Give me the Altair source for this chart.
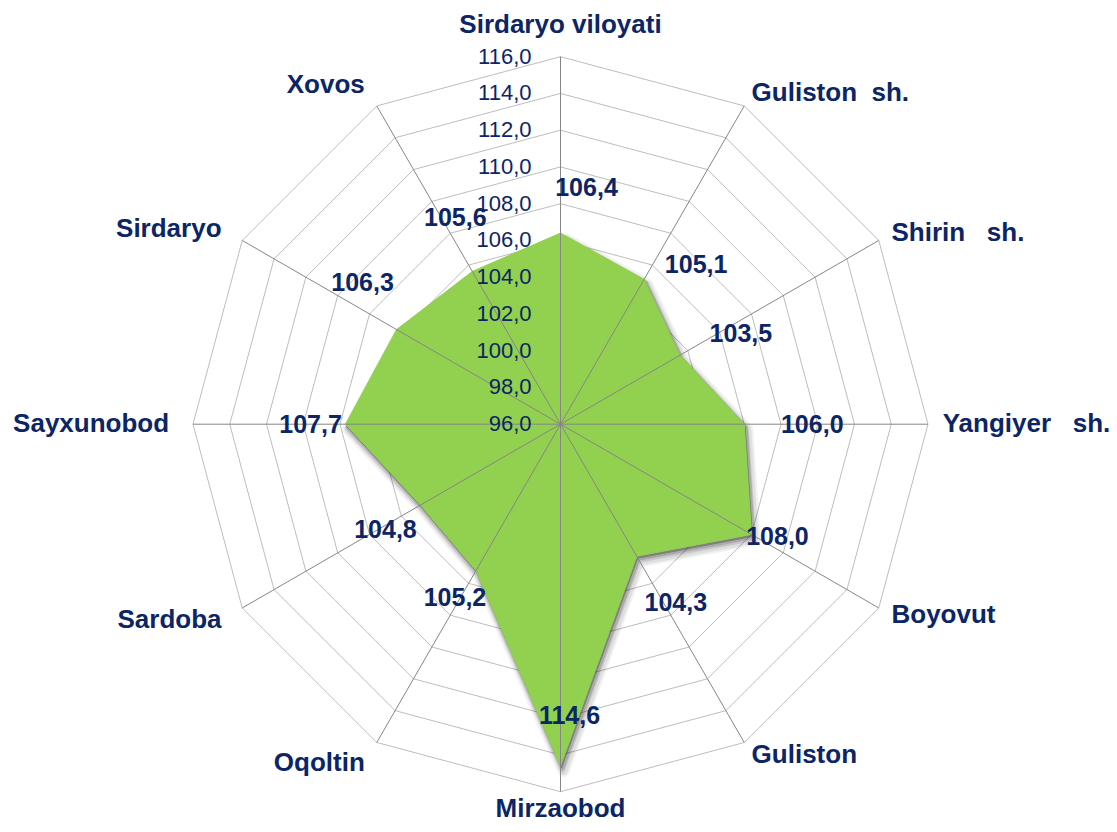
import altair as alt
import pandas as pd

# ---------------- data ----------------
categories = ["Sirdaryo viloyati", "Guliston\u00a0\u00a0sh.", "Shirin\u00a0\u00a0\u00a0sh.",
              "Yangiyer\u00a0\u00a0\u00a0sh.", "Boyovut", "Guliston", "Mirzaobod",
              "Oqoltin", "Sardoba", "Sayxunobod", "Sirdaryo", "Xovos"]
values = [106.4, 105.1, 103.5, 106.0, 108.0, 104.3, 114.6, 105.2, 104.8, 107.7, 106.3, 105.6]
value_labels = ["106,4", "105,1", "103,5", "106,0", "108,0", "104,3",
                "114,6", "105,2", "104,8", "107,7", "106,3", "105,6"]
ticks = [96, 98, 100, 102, 104, 106, 108, 110, 112, 114, 116]
tick_labels = ["96,0", "98,0", "100,0", "102,0", "104,0", "106,0",
               "108,0", "110,0", "112,0", "114,0", "116,0"]
# manual nudges of the data labels (pixels, from the point)
label_dx = [26, 52, 61, 68, 26, 39, 9, -21, -35, -35, -34, -17]
label_dy = [-45, -14, -21, 1, 3, 47, -50, 27, 25, 1, -47, -53]

VMIN, VMAX = 96, 116
N = len(categories)

# ---------------- layout ----------------
W, H = 1101, 816
CX, CY, R = 552.5, 416.2, 367.5
xdom = [-CX / R, (W - CX) / R]
ydom = [-(H - CY) / R, CY / R]
xs = alt.Scale(domain=xdom, nice=False, zero=False)
ys = alt.Scale(domain=ydom, nice=False, zero=False)

NAVY = "#0b2566"
FONT = "Liberation Sans"
theta_expr = f"datum.idx * 2 * PI / {N}"

# ---------------- tables ----------------
cat_df = pd.DataFrame({
    "idx": list(range(N)),
    "category": categories,
    "value": values,
    "vlabel": value_labels,
    "ndx": label_dx,
    "ndy": label_dy,
})
poly_df = pd.DataFrame({
    "idx": list(range(N + 1)),
    "value": values + [values[0]],
})
ring_rows = []
for t in ticks[1:]:
    for i in range(N + 1):
        ring_rows.append({"tick": t, "idx": i})
ring_df = pd.DataFrame(ring_rows)
tick_df = pd.DataFrame({"tick": ticks, "tlabel": tick_labels})


def polar(chart, field):
    return chart.transform_calculate(
        theta=theta_expr,
        r=f"(datum['{field}'] - {VMIN}) / {VMAX - VMIN}",
    ).transform_calculate(
        px="datum.r * sin(datum.theta)",
        py="datum.r * cos(datum.theta)",
    )


def xy():
    return dict(
        x=alt.X("px:Q", scale=xs, axis=None),
        y=alt.Y("py:Q", scale=ys, axis=None),
    )

# rings
rings = polar(alt.Chart(ring_df), "tick").mark_line(
    color="#bdbdbd", strokeWidth=1, clip=False
).encode(**xy(), detail="tick:N", order="idx:Q")

# shadow layers (soft, offset down-right)
shadow_layers = []
for off, sw, op in [((3, 5), 12, 0.05), ((3, 5), 8, 0.07), ((2, 4), 5, 0.10),
                    ((2, 3), 3, 0.14), ((1, 2), 1, 0.25)]:
    shadow_layers.append(
        polar(alt.Chart(poly_df), "value").mark_line(
            fill="#000000", stroke="#000000", strokeWidth=sw, opacity=op,
            xOffset=off[0], yOffset=off[1], strokeJoin="round", clip=False
        ).encode(**xy(), order="idx:Q")
    )

polygon = polar(alt.Chart(poly_df), "value").mark_line(
    fill="#92d050", stroke="#92d050", strokeWidth=1, clip=False
).encode(**xy(), order="idx:Q")

# spokes
spokes = alt.Chart(cat_df).transform_calculate(
    theta=theta_expr
).transform_calculate(
    x0="0", y0="0",
    x1="sin(datum.theta)", y1="cos(datum.theta)",
).mark_rule(color="#868686", strokeWidth=1).encode(
    x=alt.X("x0:Q", scale=xs, axis=None),
    y=alt.Y("y0:Q", scale=ys, axis=None),
    x2="x1:Q", y2="y1:Q",
)

# tick labels along the top spoke
tick_text = alt.Chart(tick_df).transform_calculate(
    px="0",
    py=f"(datum.tick - {VMIN}) / {VMAX - VMIN}",
).mark_text(
    align="right", baseline="middle", dx=-29, fontSize=22, font=FONT, color=NAVY
).encode(
    x=alt.X("px:Q", scale=xs, axis=None),
    y=alt.Y("py:Q", scale=ys, axis=None),
    text="tlabel:N",
)

# data labels
data_text = polar(alt.Chart(cat_df), "value").transform_calculate(
    lx=f"datum.px + datum.ndx / {R}",
    ly=f"datum.py - datum.ndy / {R}",
).mark_text(
    align="center", baseline="middle", fontSize=25, fontWeight="bold", font=FONT, color=NAVY
).encode(
    x=alt.X("lx:Q", scale=xs, axis=None),
    y=alt.Y("ly:Q", scale=ys, axis=None),
    text="vlabel:N",
)

# category labels
def cat_layer(filter_expr, radius, align, baseline="middle"):
    return alt.Chart(cat_df).transform_calculate(
        theta=theta_expr
    ).transform_filter(filter_expr).transform_calculate(
        lx=f"{radius} * sin(datum.theta)",
        ly=f"{radius} * cos(datum.theta)",
    ).mark_text(
        align=align, baseline=baseline, fontSize=26, fontWeight="bold", font=FONT, color=NAVY
    ).encode(
        x=alt.X("lx:Q", scale=xs, axis=None),
        y=alt.Y("ly:Q", scale=ys, axis=None),
        text="category:N",
    )

cat_right = cat_layer("sin(datum.theta) > 0.01", 1.04, "left")
cat_left = cat_layer("sin(datum.theta) < -0.01", 1.065, "right")
cat_top = cat_layer("abs(sin(datum.theta)) <= 0.01 && cos(datum.theta) > 0", 1.085, "center")
cat_bottom = cat_layer("abs(sin(datum.theta)) <= 0.01 && cos(datum.theta) < 0", 1.068,
                       "center", "alphabetic")

chart = alt.layer(
    rings, *shadow_layers, polygon, spokes, tick_text, data_text,
    cat_right, cat_left, cat_top, cat_bottom
).properties(
    width=W, height=H,
    autosize=alt.AutoSizeParams(type="none"),
    padding=0,
    background="white",
).configure_view(strokeWidth=0, stroke="transparent")

chart.save("out.html", embed_options={"renderer": "svg", "actions": False})
